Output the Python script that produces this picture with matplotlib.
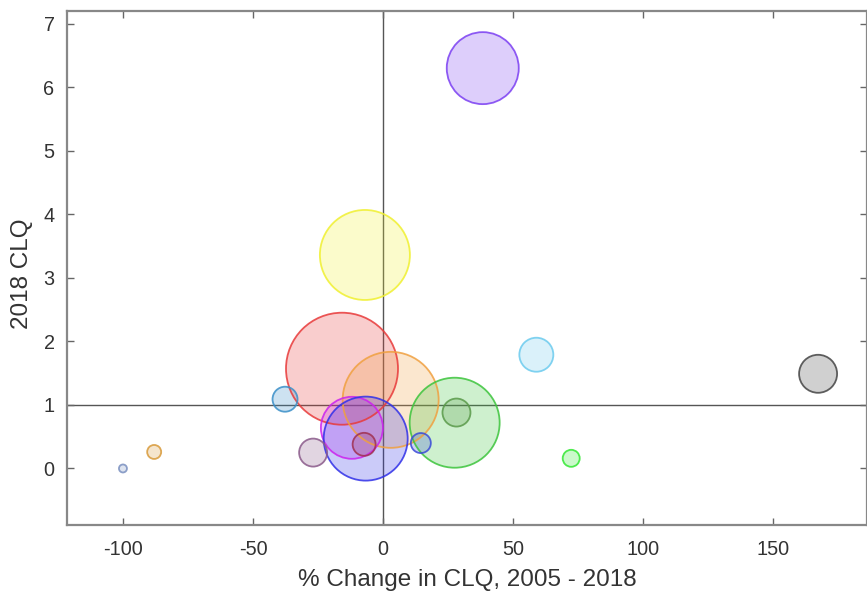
import matplotlib
matplotlib.use("Agg")
import matplotlib.pyplot as plt
import numpy as np

plt.rcParams['font.family'] = ['Liberation Sans', 'DejaVu Sans']
plt.rcParams['axes.unicode_minus'] = False

# data
pct_change = [38.3, -7.0, -15.8, 2.9, 27.5, 28.2, -37.7, -12.0, -6.7, -7.3,
              -26.9, 14.5, 58.9, 167.2, 72.3, -88.0, -100.0]
clq_2018 = [6.30, 3.36, 1.57, 1.08, 0.72, 0.88, 1.09, 0.64, 0.47, 0.38,
            0.25, 0.40, 1.79, 1.49, 0.16, 0.26, 0.00]
bubble_size = [72, 90, 112, 96, 90, 28, 25, 62, 84, 23,
               28, 20, 34, 38, 17, 14, 8]   # relative bubble diameter
colors = ['#7b3ff2', '#f0f030', '#e83a3a', '#f0a040', '#3cc43c', '#5a9a4a',
          '#3a8fc8', '#cc22ee', '#3030e8', '#a03050', '#8a5a8a', '#3a4ad8',
          '#6ccbee', '#444444', '#33e833', '#d89a3a', '#7a90c0']

fig = plt.figure(figsize=(8.67, 5.95), dpi=100)
ax = fig.add_axes([0.0773, 0.1176, 0.9227, 0.864])

s = [(d * 0.72) ** 2 for d in bubble_size]
ax.axvline(0, color='#555555', lw=1.0, zorder=1)
ax.axhline(1, color='#555555', lw=1.0, zorder=1)
ax.scatter(pct_change, clq_2018, s=s, c=colors, alpha=0.25, edgecolors='none', zorder=2)
ax.scatter(pct_change, clq_2018, s=s, facecolors='none', edgecolors=colors, linewidths=1.3, alpha=0.85, zorder=3)

ax.set_xlim(-121.5, 186)
ax.set_ylim(-0.89, 7.2)
ax.set_xticks(np.arange(-100, 151, 50))
ax.set_yticks(np.arange(0, 8, 1))
ax.tick_params(direction='in', top=True, right=True, length=5, width=1,
               color='#666666', labelsize=14.3, labelcolor='#333333')
ax.tick_params(axis='x', pad=11)
ax.tick_params(axis='y', pad=9)
for sp in ax.spines.values():
    sp.set_color('#888888')
    sp.set_linewidth(1.6)

ax.set_xlabel('% Change in CLQ, 2005 - 2018', fontsize=17.5, color='#333333', labelpad=7)
ax.set_ylabel('2018 CLQ', fontsize=17.5, color='#333333')
ax.yaxis.set_label_coords(-0.043, 0.488)

fig.savefig('out.png', dpi=100)
